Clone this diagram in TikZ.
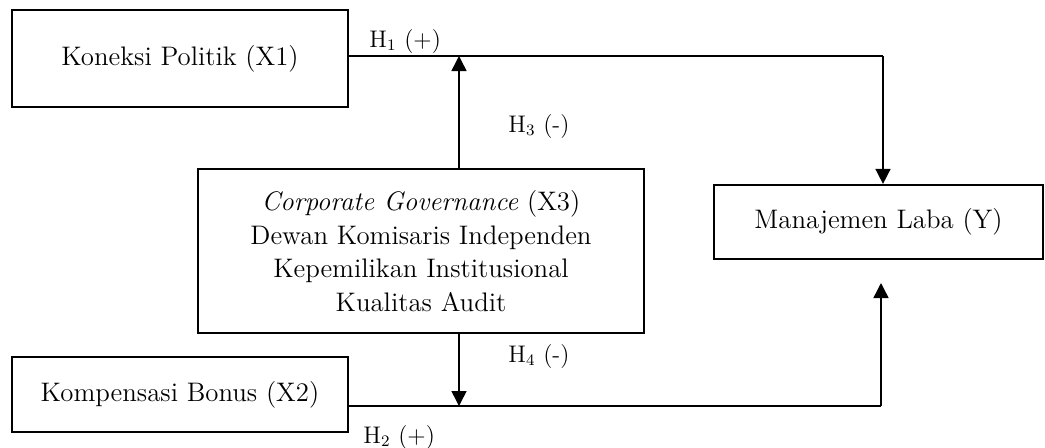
\documentclass[tikz,border=0pt]{standalone}
\usetikzlibrary{arrows.meta}
\begin{document}
\begin{tikzpicture}[x=0.5pt,y=-0.5pt,
  box/.style={draw,line width=1.1pt,rectangle,inner sep=0pt,anchor=center,
    font=\fontsize{13.4}{16.7}\selectfont,align=center},
  conn/.style={line width=0.75pt},
  arr/.style={conn,-{Triangle[width=7.5pt,length=7.5pt]}},
  lbl/.style={font=\fontsize{12}{14}\selectfont,inner sep=0pt,anchor=base west}]
\useasboundingbox (0,0) rectangle (1045,447);
\node[box,minimum width=168pt,minimum height=48.5pt] (x1) at (180,58.5) {Koneksi Politik (X1)};
\node[box,minimum width=168pt,minimum height=37.5pt] (x2) at (180,394.5) {Kompensasi Bonus (X2)};
\node[box,minimum width=223pt,minimum height=82pt] (cg) at (421,251)
  {\textit{Corporate Governance} (X3)\\Dewan Komisaris Independen\\Kepemilikan Institusional\\Kualitas Audit};
\node[box,minimum width=164.5pt,minimum height=37pt] (y) at (878.5,222) {Manajemen Laba (Y)};
\coordinate (c1) at (883,56);
\coordinate (m1) at (459,56);
\coordinate (c2) at (881,406);
\coordinate (m2) at (459,406);
\coordinate (e2) at (881,283);
\draw[conn] (x1.east |- c1) -- (c1);
\draw[arr] (c1) -- (c1 |- y.north);
\draw[arr] (cg.north -| m1) -- (m1);
\draw[conn] (x2.east |- c2) -- (c2);
\draw[arr] (c2) -- (e2);
\draw[arr] (cg.south -| m2) -- (m2);
\node[lbl] (h1) at (369,47) {H\textsubscript{1} (+)};
\node[lbl] (h3) at (508,132) {H\textsubscript{3} (-)};
\node[lbl] (h4) at (508,362) {H\textsubscript{4} (-)};
\node[lbl] (h2) at (363,443) {H\textsubscript{2} (+)};
\end{tikzpicture}
\end{document}
